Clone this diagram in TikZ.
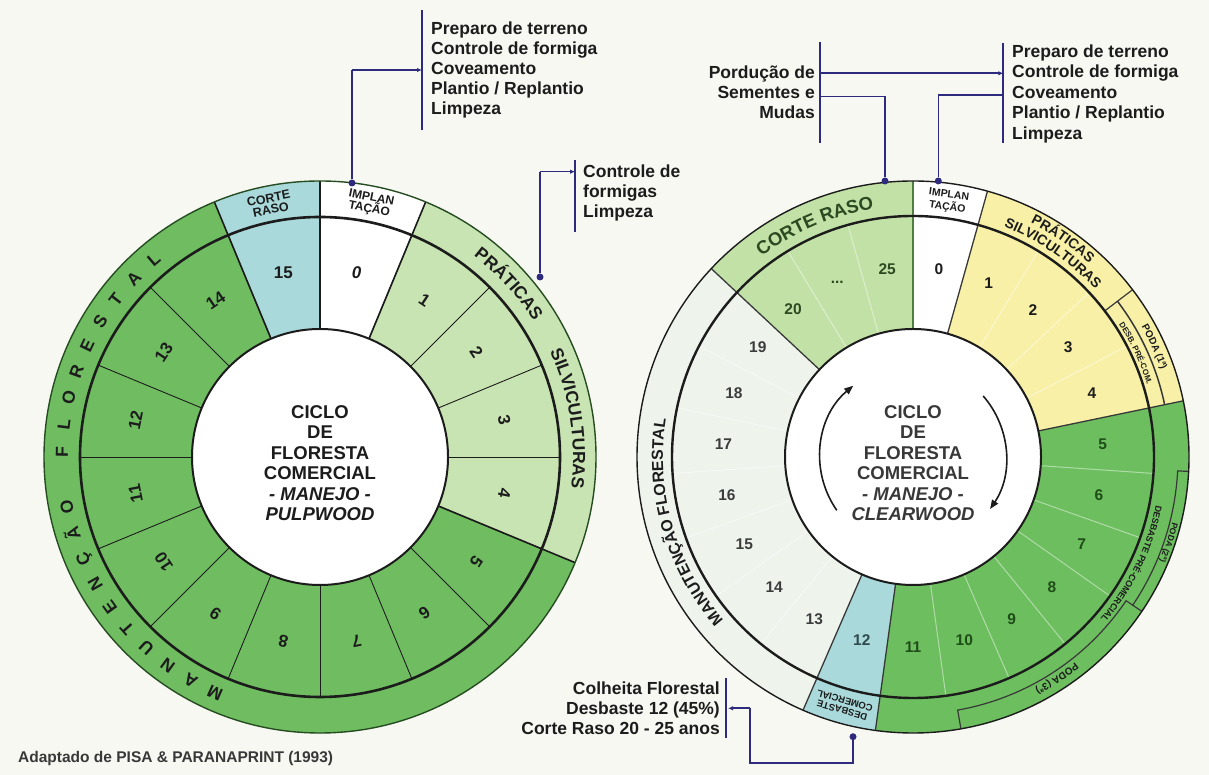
\documentclass[tikz,border=0pt]{standalone}
\usepackage{fontspec}
\setmainfont{Liberation Sans}
\usetikzlibrary{arrows.meta,decorations.text}

\definecolor{paper}{HTML}{F8F8F3}
\definecolor{mgreen}{HTML}{70BD61}
\definecolor{lgreen}{HTML}{C8E4B2}
\definecolor{aqua}{HTML}{A9D9DA}
\definecolor{butter}{HTML}{F7F0A6}
\definecolor{mist}{HTML}{EEF3EC}
\definecolor{sage}{HTML}{C2E1A6}
\definecolor{rgreen}{HTML}{6DBE5F}
\definecolor{ink}{HTML}{1C1C1C}
\definecolor{softink}{HTML}{383838}
\definecolor{navy}{HTML}{2E2A7E}
\definecolor{dgreen}{HTML}{1F4D18}
\definecolor{tealink}{HTML}{2F4A4F}
\definecolor{gink}{HTML}{3C3C3C}
\definecolor{cink}{HTML}{2C4A22}
\definecolor{rimL}{HTML}{264D22}
\definecolor{seam}{HTML}{4F7F45}

% filled circular sector: colour, start angle, end angle, radius
\newcommand{\wedgefill}[4]{\fill[#1] (0,0) -- (#2:#4) arc[start angle=#2,end angle=#3,radius=#4] -- cycle;}
% text set along a clockwise arc: format, centre angle, radius, half span, text
\newcommand{\arctext}[5]{%
  \path[decorate,decoration={text along path,text align=center,text={|#1|#5}}]
    ({#2+#4}:#3) arc[start angle={#2+#4},end angle={#2-#4},radius=#3];}

\tikzset{
  thinsep/.style={line width=0.9pt, ink},
  major/.style={line width=1.6pt, ink},
  faint/.style={line width=1pt, white, opacity=0.45},
  rline/.style={line width=1.3pt, softink},
  sub/.style={line width=1.2pt, softink},
  lnum/.style={font=\fontsize{17}{17}\selectfont\bfseries, text=ink, inner sep=0pt},
  rnum/.style={font=\fontsize{15.5}{15.5}\selectfont\bfseries, inner sep=0pt},
  boxlbl/.style={align=center, inner sep=0pt, text=ink},
  arcletter/.style={font=\fontsize{17.5}{17.5}\selectfont\bfseries, text=ink, inner sep=0pt, anchor=base},
  hub/.style={align=center, inner sep=0pt, font=\fontsize{18.5}{20.5}\selectfont\bfseries},
  note/.style={font=\fontsize{17.5}{20}\selectfont\bfseries, text=ink, inner sep=0pt},
  link/.style={navy, line width=1.6pt},
  linkarrow/.style={navy, line width=1.6pt, -{Latex[length=5pt,width=4.5pt]}},
  bar/.style={navy, line width=2.2pt},
  pin/.style={circle, fill=navy, inner sep=0pt, minimum size=7pt},
  cycle arrow/.style={line width=1.6pt, ink, -{Triangle[length=9pt,width=7pt]}}
}

\begin{document}
\begin{tikzpicture}[x=1pt,y=1pt]
\useasboundingbox (0,0) rectangle (1209,775);
\fill[paper] (0,0) rectangle (1209,775);

% ================= pulpwood wheel =================
\begin{scope}[shift={(320,318)}]
  \wedgefill{mgreen}{112.5}{337.5}{276}
  \wedgefill{lgreen}{-22.5}{67.5}{276}
  \wedgefill{white}{67.5}{90}{276}
  \wedgefill{aqua}{90}{112.5}{276}
  \fill[white] (0,0) circle[radius=128];
  \foreach \a in {0,22.5,...,337.5} \draw[thinsep] (\a:128) -- (\a:240);
  \foreach \a in {90,112.5,67.5,-22.5} \draw[major] (\a:128) -- (\a:276);
  \draw[line width=2pt, ink] (0,0) circle[radius=128];
  \draw[line width=2.6pt, ink] (0,0) circle[radius=240];
  \draw[line width=1.4pt, rimL] (0,0) circle[radius=276];

  % year numbers
  \node[lnum] (ln0) at (78.75:188) {\textit{0}};
  \node[lnum] (ln15) at (101.25:188) {15};
  \foreach \i in {1,...,14} {
    \pgfmathsetmacro\ang{78.75-22.5*\i}
    \node[lnum, rotate=\ang-90] (ln\i) at (\ang:188) {\i};
  }

  % labels of the outer band
  \node[boxlbl, rotate=11.25, font=\fontsize{12.5}{11.5}\selectfont\bfseries] (lcorte) at (101.25:258) {CORTE\\RASO};
  \node[boxlbl, rotate=-11.25, font=\fontsize{12}{11.5}\selectfont\bfseries] (limpl) at (78.75:258) {IMPLAN\\TAÇÃO};
  \arctext{\color{ink}\fontsize{17.5}{17.5}\selectfont\bfseries}{42.5}{253}{48}{PRÁTICAS}
  \arctext{\color{ink}\fontsize{17.5}{17.5}\selectfont\bfseries}{8.8}{253}{60}{SILVICULTURAS}
  \foreach \ch [count=\k from 0] in {M,A,N,U,T,E,N,Ç,Ã,O,{},F,L,O,R,E,S,T,A,L} {
    \pgfmathsetmacro\ang{246-6.1*\k}
    \node[arcletter, rotate=\ang-90] (lm\k) at (\ang:252) {\ch};
  }

  \node[hub, text=ink] (lhub) at (0,-6) {CICLO\\DE\\FLORESTA\\COMERCIAL\\\textit{- MANEJO -}\\\textit{PULPWOOD}};
\end{scope}

% ================= clearwood wheel =================
\begin{scope}[shift={(913,318)}]
  \pgfmathsetmacro\st{360/23}
  \wedgefill{white}{74.35}{90}{276}
  \wedgefill{sage}{90}{136.96}{276}
  \wedgefill{mist}{136.96}{246.52}{276}
  \wedgefill{aqua}{246.52}{262.17}{276}
  \wedgefill{rgreen}{-97.83}{11.74}{276}
  \wedgefill{butter}{11.74}{74.35}{276}
  \fill[white] (0,0) circle[radius=128];

  % faint seams between years of one phase
  \foreach \i in {2,3,4,6,7,8,9,10,11,14,15,16,17,18,19,21,22}
    \draw[faint] ({90-\st*\i}:128) -- ({90-\st*\i}:241);
  % phase boundaries
  \foreach \a in {74.35,136.96,-113.48,-97.83,11.74} \draw[rline] (\a:128) -- (\a:276);
  \draw[line width=2.6pt, seam] (90:128) -- (90:276);

  % sub-bands of the outer ring
  \draw[sub] (37.3:241) -- (37.3:276);
  \draw[sub, line width=1.5pt] (37.3:257) arc[start angle=37.3,end angle=11.74,radius=257];
  \draw[sub] (-3:276) -- (-3:265) arc[start angle=-3,end angle=-34,radius=265]
             -- (-34:257) arc[start angle=-34,end angle=-80,radius=257] -- (-80:276);
  \draw[sub] (-34:265) -- (-34:276);

  \draw[line width=2pt, ink] (0,0) circle[radius=128];
  \draw[line width=2.4pt, ink] (0,0) circle[radius=241];
  \draw[line width=1.4pt, ink] (0,0) circle[radius=276];

  % year numbers
  \foreach \i/\t/\c in {0/0/ink,1/1/ink,2/2/ink,3/3/ink,4/4/ink,5/5/dgreen,6/6/dgreen,7/7/dgreen,
      8/8/dgreen,9/9/dgreen,10/10/dgreen,11/11/dgreen,12/12/tealink,13/13/gink,14/14/gink,
      15/15/gink,16/16/gink,17/17/gink,18/18/gink,19/19/gink,20/20/cink,21/{...}/cink,22/25/cink} {
    \pgfmathsetmacro\ang{90-\st*(\i+0.5)}
    \node[rnum, text=\c] (rn\i) at (\ang:190) {\t};
  }

  % labels of the outer ring
  \node[boxlbl, rotate=-7.83, font=\fontsize{10.5}{12.5}\selectfont\bfseries] (rimpl) at (82.17:258) {IMPLAN\\TAÇÃO};
  \node[boxlbl, rotate=164.35, font=\fontsize{9.5}{10}\selectfont\bfseries] (rdes) at (-105.65:258) {DESBASTE\\COMERCIAL};
  \arctext{\color{cink}\fontsize{18.5}{18.5}\selectfont\bfseries}{113}{251}{50}{CORTE RASO}
  \arctext{\color{ink}\fontsize{16}{16}\selectfont\bfseries}{196}{250}{60}{MANUTENÇÃO FLORESTAL}
  \arctext{\color{ink}\fontsize{14}{14}\selectfont\bfseries}{55.5}{262}{40}{PRÁTICAS}
  \arctext{\color{ink}\fontsize{14}{14}\selectfont\bfseries}{55.5}{247.5}{40}{SILVICULTURAS}
  \arctext{\color{ink}\fontsize{10}{10}\selectfont\bfseries}{24.5}{263}{30}{PODA (1ª)}
  \arctext{\color{ink}\fontsize{8}{8}\selectfont\bfseries}{25}{245}{30}{DESB. PRÉ-COM.}
  \arctext{\color{ink}\fontsize{9}{9}\selectfont\bfseries}{-26}{247.5}{40}{DESBASTE PRÉ-COMERCIAL}
  \arctext{\color{ink}\fontsize{8.5}{8.5}\selectfont\bfseries}{-18.5}{267.5}{30}{PODA (2ª)}
  \arctext{\color{ink}\fontsize{10}{10}\selectfont\bfseries}{-57}{262}{30}{PODA (3ª)}

  % direction of the cycle
  \draw[cycle arrow] (215:93) arc[start angle=215,end angle=130,radius=93];
  \draw[cycle arrow] (41:93) arc[start angle=41,end angle=-34,radius=93];

  \node[hub, text=softink] (rhub) at (0,-6) {CICLO\\DE\\FLORESTA\\COMERCIAL\\\textit{- MANEJO -}\\\textit{CLEARWOOD}};
\end{scope}

% ================= call-outs of the pulpwood wheel =================
\node[pin] (pA) at (352,592) {};
\coordinate (kA) at (352,705);
\coordinate (bA1) at (422,765);
\coordinate (bA2) at (422,645);
\coordinate (tA) at (422,705);
\draw[bar] (bA1) -- (bA2);
\draw[link] (pA) -- (kA);
\draw[linkarrow] (kA) -- (tA);
\node[note, anchor=base west] (nA1) at (431,740.7) {Preparo de terreno};
\node[note, anchor=base west] (nA2) at (431,720.7) {Controle de formiga};
\node[note, anchor=base west] (nA3) at (431,700.7) {Coveamento};
\node[note, anchor=base west] (nA4) at (431,680.7) {Plantio / Replantio};
\node[note, anchor=base west] (nA5) at (431,660.7) {Limpeza};

\node[pin] (pB) at (540,498) {};
\coordinate (kB) at (540,603.3);
\coordinate (bB1) at (575,615);
\coordinate (bB2) at (575,543);
\coordinate (tB) at (575,603.3);
\draw[bar] (bB1) -- (bB2);
\draw[link] (pB) -- (kB);
\draw[linkarrow] (kB) -- (tB);
\node[note, anchor=base west] (nB1) at (583,597.5) {Controle de};
\node[note, anchor=base west] (nB2) at (583,577.5) {formigas};
\node[note, anchor=base west] (nB3) at (583,557.5) {Limpeza};

% ================= call-outs of the clearwood wheel =================
\coordinate (bC1) at (820,733.3);
\coordinate (bC2) at (820,631.7);
\coordinate (bD1) at (1003.3,731.7);
\coordinate (bD2) at (1003.3,631.7);
\draw[bar] (bC1) -- (bC2);
\draw[bar] (bD1) -- (bD2);
\node[note, anchor=base east] (nC1) at (815,696) {Pordução de};
\node[note, anchor=base east] (nC2) at (815,676) {Sementes e};
\node[note, anchor=base east] (nC3) at (815,656) {Mudas};
\coordinate (sC) at (820,701.7);
\coordinate (eC) at (1003.3,701.7);
\draw[linkarrow] (sC) -- (eC);

\node[pin] (pC) at (885,594) {};
\coordinate (sC2) at (820,678.3);
\coordinate (kC) at (885,678.3);
\draw[link] (sC2) -- (kC) -- (pC);

\node[pin] (pD) at (938.3,594) {};
\coordinate (sD) at (1003.3,680);
\coordinate (kD) at (938.3,680);
\draw[link] (sD) -- (kD) -- (pD);

\node[note, anchor=base west] (nD1) at (1012,717.5) {Preparo de terreno};
\node[note, anchor=base west] (nD2) at (1012,697.1) {Controle de formiga};
\node[note, anchor=base west] (nD3) at (1012,676.7) {Coveamento};
\node[note, anchor=base west] (nD4) at (1012,656.3) {Plantio / Replantio};
\node[note, anchor=base west] (nD5) at (1012,635.9) {Limpeza};

\coordinate (bE1) at (726,97);
\coordinate (bE2) at (726,37);
\draw[bar] (bE1) -- (bE2);
\node[note, anchor=base east] (nE1) at (720,80) {Colheita Florestal};
\node[note, anchor=base east] (nE2) at (720,60) {Desbaste 12 (45\%)};
\node[note, anchor=base east] (nE3) at (720,40.5) {Corte Raso 20 - 25 anos};
\node[pin] (pE) at (853,38.3) {};
\coordinate (kE1) at (853,12);
\coordinate (kE2) at (750,12);
\coordinate (kE3) at (750,66.7);
\coordinate (tE) at (728,66.7);
\draw[link] (pE) -- (kE1) -- (kE2) -- (kE3);
\draw[linkarrow] (kE3) -- (tE);

% source
\node[font=\fontsize{15.5}{15.5}\selectfont\bfseries, text=softink, anchor=base west, inner sep=0pt] (src) at (18,12) {Adaptado de PISA \& PARANAPRINT (1993)};
\end{tikzpicture}
\end{document}
